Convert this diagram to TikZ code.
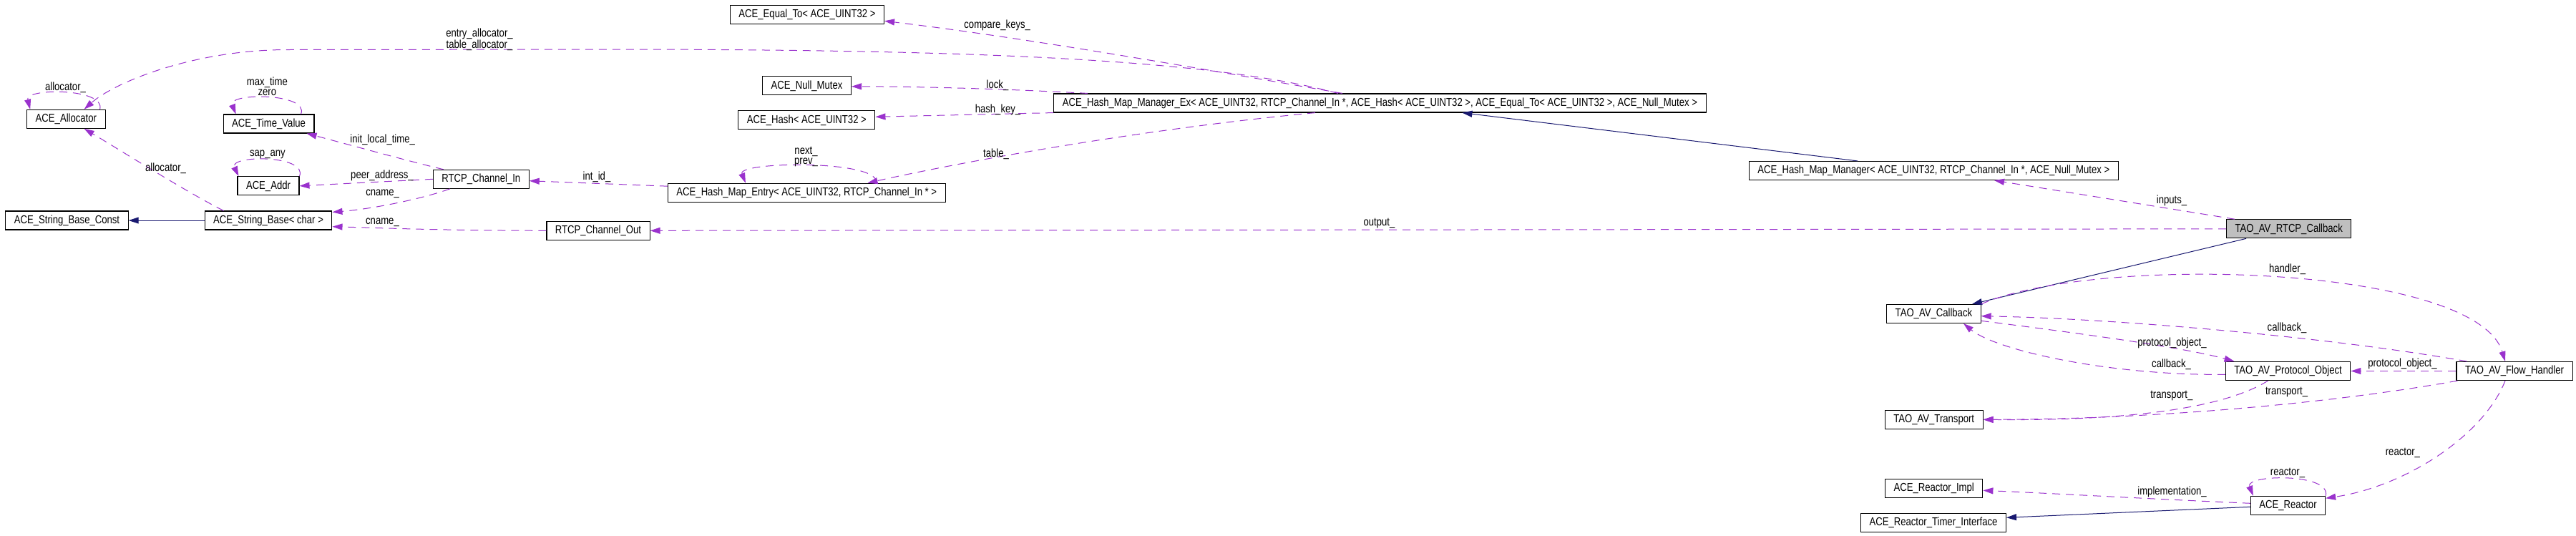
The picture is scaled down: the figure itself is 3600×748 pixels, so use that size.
\documentclass[tikz,border=0pt]{standalone}
\usepackage{fontspec}
\setmainfont{Liberation Sans}[FakeStretch=0.82]
\usetikzlibrary{arrows.meta}

\definecolor{dxpurple}{HTML}{9A32CD}
\definecolor{dxnavy}{HTML}{191970}
\definecolor{dxgrey}{HTML}{BFBFBF}
\newcommand{\dxfont}{\fontsize{16pt}{14.5pt}\selectfont}

\tikzset{
  cls/.style={rectangle,draw=black,line width=1.1pt,fill=white,font=\dxfont,
              minimum height=26pt,inner xsep=12pt,inner ysep=0pt},
  cur/.style={cls,fill=dxgrey},
  use/.style={draw=dxpurple,line width=1pt,dash pattern=on 11pt off 8pt,
              -{Triangle[length=14pt,width=9pt]}},
  inh/.style={draw=dxnavy,line width=1pt,-{Triangle[length=14pt,width=9pt]}},
  lbl/.style={font=\dxfont,inner sep=0pt,align=center},
}

\begin{document}
\begin{tikzpicture}[x=1pt,y=-1pt]
\useasboundingbox (0,0) rectangle (3600,748);

% classes, placed column by column
\node[cls] (alloc)     at (92.4,166.3)   {ACE\_Allocator};
\node[cls] (tv)        at (375.6,173)    {ACE\_Time\_Value};
\node[cls] (addr)      at (375,259.8)    {ACE\_Addr};
\node[cls] (sbc)       at (93.5,308)     {ACE\_String\_Base\_Const};
\node[cls] (sb)        at (375,308)      {ACE\_String\_Base< char >};
\node[cls] (chin)      at (672.3,250.3)  {RTCP\_Channel\_In};
\node[cls] (chout)     at (836,322.3)    {RTCP\_Channel\_Out};
\node[cls] (equal)     at (1128,20.8)    {ACE\_Equal\_To< ACE\_UINT32 >};
\node[cls] (mutex)     at (1127.5,119.8) {ACE\_Null\_Mutex};
\node[cls] (hash)      at (1127.4,167.9) {ACE\_Hash< ACE\_UINT32 >};
\node[cls] (entry)     at (1127.3,269.2) {ACE\_Hash\_Map\_Entry< ACE\_UINT32, RTCP\_Channel\_In * >};
\node[cls] (mgrex)     at (1928.4,144)   {ACE\_Hash\_Map\_Manager\_Ex< ACE\_UINT32, RTCP\_Channel\_In *, ACE\_Hash< ACE\_UINT32 >, ACE\_Equal\_To< ACE\_UINT32 >, ACE\_Null\_Mutex >};
\node[cls] (mgr)       at (2702.3,238.5) {ACE\_Hash\_Map\_Manager< ACE\_UINT32, RTCP\_Channel\_In *, ACE\_Null\_Mutex >};
\node[cur] (rtcpcb)    at (3198.7,319.8) {TAO\_AV\_RTCP\_Callback};
\node[cls] (avcb)      at (2702.4,438.5) {TAO\_AV\_Callback};
\node[cls] (proto)     at (3197.5,518.5) {TAO\_AV\_Protocol\_Object};
\node[cls] (flow)      at (3514,518.5)   {TAO\_AV\_Flow\_Handler};
\node[cls] (transport) at (2702.7,586.3) {TAO\_AV\_Transport};
\node[cls] (rimpl)     at (2702.7,682.3) {ACE\_Reactor\_Impl};
\node[cls] (reactor)   at (3197.5,706.3) {ACE\_Reactor};
\node[cls] (timer)     at (2702,730.3)   {ACE\_Reactor\_Timer\_Interface};

% inheritance
\draw[inh] (sb) -- (sbc);
\draw[inh] (2596,0 |- mgr.north) -- (2043.4,0 |- mgrex.south);
\draw[inh] (3139,0 |- rtcpcb.south) -- (2756,0 |- avcb.north);
\draw[inh] ([yshift=-2pt]reactor.west) -- ([yshift=7pt]timer.east);

% self references
\draw[use] ([xshift=-8pt]alloc.north east) .. controls +(8,-30) and +(-8,-30) .. ([xshift=5pt]alloc.north west)
  node[lbl] (l-alloc) at (91.5,122.7) {allocator\_};
\draw[use] ([xshift=-19pt]tv.north east) .. controls +(12,-30) and +(-12,-30) .. ([xshift=18pt]tv.north west)
  node[lbl] (l-tv) at (373.4,121) {max\_time\\zero};
\draw[use] (addr.north east) .. controls +(12,-30) and +(-14,-30) .. ([xshift=2pt]addr.north west)
  node[lbl] (l-addr) at (373.9,216) {sap\_any};
\draw[use] ([xshift=-97pt]entry.north east) .. controls +(5,-33) and +(-12,-30) .. ([xshift=109pt]entry.north west)
  node[lbl] (l-entry) at (1126.5,219) {next\_\\prev\_};
\draw[use] (reactor.north east) .. controls +(8,-32) and +(-12,-30) .. ([xshift=4pt]reactor.north west)
  node[lbl] (l-reactor) at (3197,661) {reactor\_};

% members of the hash map manager
\draw[use] (1870,0 |- mgrex.north) .. controls (1690,82) and (1350,69) .. (850,69) -- (400,69.5)
  .. controls (270,70) and (160,115) .. ([xshift=-30pt]alloc.north east)
  node[lbl] (l-entryalloc) at (670,55) {entry\_allocator\_\\table\_allocator\_};
\draw[use] (1876,0 |- mgrex.north) .. controls (1700,100) and (1450,55) .. ([yshift=-8.5pt]equal.east)
  node[lbl] (l-equal) at (1393.7,35) {compare\_keys\_};
\draw[use] (1520,0 |- mgrex.north) .. controls (1420,125) and (1300,121) .. ([yshift=-1pt]mutex.east)
  node[lbl] (l-mutex) at (1394,119.3) {lock\_};
\draw[use] (mgrex.south west) -- ([yshift=4.6pt]hash.east)
  node[lbl] (l-hash) at (1394.5,153.3) {hash\_key\_};
\draw[use] (1838,0 |- mgrex.south) .. controls (1600,180) and (1350,225) .. (1212.5,0 |- entry.north)
  node[lbl] (l-table) at (1392,215.3) {table\_};
\draw[use] ([yshift=9pt]entry.west) -- ([yshift=-2.4pt]chin.east)
  node[lbl] (l-intid) at (834,247.7) {int\_id\_};

% members of the channels and strings
\draw[use] ([xshift=15pt]chin.north west) .. controls (570,225) and (480,200) .. ([xshift=-11pt]tv.south east)
  node[lbl] (l-tv2) at (534.7,195) {init\_local\_time\_};
\draw[use] (chin.west) -- (addr.east)
  node[lbl] (l-addr2) at (534,245) {peer\_address\_};
\draw[use] ([xshift=24pt]chin.south west) .. controls (590,278) and (520,292) .. ([yshift=-2pt]sb.north east)
  node[lbl] (l-cname1) at (534.6,270.7) {cname\_};
\draw[use] (chout.west) .. controls (600,322) and (520,318) .. ([yshift=-8.7pt]sb.east)
  node[lbl] (l-cname2) at (534.5,311) {cname\_};
\draw[use] (312.5,0 |- sb.north) .. controls (260,268) and (160,205) .. ([xshift=-30pt]alloc.south east)
  node[lbl] (l-alloc2) at (231.5,235.7) {allocator\_};

% members of the callback
\draw[use] ([xshift=12pt]rtcpcb.north west) -- (2787,0 |- mgr.south)
  node[lbl] (l-inputs) at (3035,280.7) {inputs\_};
\draw[use] (rtcpcb.west) -- (chout.east)
  node[lbl] (l-output) at (1927.4,312) {output\_};
\draw[use] (avcb.north east) .. controls (2930,355) and (3460,370) .. ([xshift=-13pt]flow.north)
  node[lbl] (l-handler) at (3196.5,376.7) {handler\_};
\draw[use] ([xshift=15pt]flow.north west) .. controls (3250,470) and (2950,445) .. ([yshift=-3.2pt]avcb.east)
  node[lbl] (l-cb1) at (3196,458.3) {callback\_};
\draw[use] ([yshift=-9.8pt]avcb.east) .. controls (2900,465) and (3050,485) .. ([xshift=-75pt]proto.north)
  node[lbl] (l-po1) at (3035.5,479) {protocol\_object\_};
\draw[use] ([yshift=-4.8pt]proto.west) .. controls (2950,525) and (2790,490) .. ([xshift=41.6pt]avcb.south)
  node[lbl] (l-cb2) at (3034.5,509) {callback\_};
\draw[use] (flow.west) -- (proto.east)
  node[lbl] (l-po2) at (3357.4,508.3) {protocol\_object\_};
\draw[use] ([xshift=-28pt]proto.south) .. controls (3100,575) and (2950,588) .. (transport.east)
  node[lbl] (l-tr1) at (3034.8,552.7) {transport\_};
\draw[use] ([xshift=2pt]flow.south west) .. controls (3250,565) and (3000,586) .. (transport.east)
  node[lbl] (l-tr2) at (3195.5,548) {transport\_};
\draw[use] ([xshift=-13pt]flow.south) .. controls (3470,610) and (3360,680) .. ([yshift=-3.5pt]reactor.north east)
  node[lbl] (l-reactor2) at (3357.9,632.7) {reactor\_};
\draw[use] ([yshift=3pt]reactor.west) .. controls (3000,697) and (2880,690) .. ([yshift=-3pt]rimpl.east)
  node[lbl] (l-impl) at (3035.5,687.3) {implementation\_};
\end{tikzpicture}
\end{document}
